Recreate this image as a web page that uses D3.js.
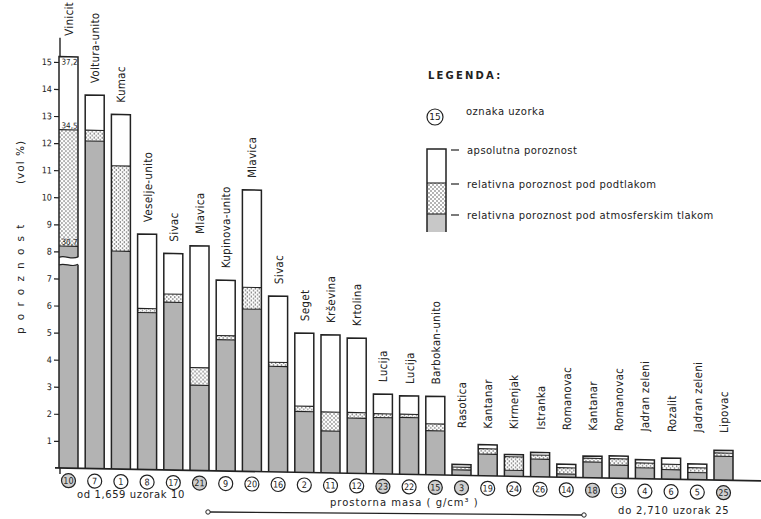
<!DOCTYPE html>
<html>
<head>
<meta charset="utf-8">
<script src="https://cdn.jsdelivr.net/npm/d3@7/dist/d3.min.js"></script>
<style>
  body { margin: 0; background: #fff; }
  text { fill: #222; font-family: "DejaVu Sans", sans-serif; }
</style>
</head>
<body>
<svg id="chart" width="761" height="519"></svg>
<script>
// sample names, sample numbers (circled) and the three porosity series (vol %)
const names = ["Vinicit","Voltura-unito","Kumac","Veselje-unito","Sivac","Mlavica","Kupinova-unito","Mlavica",
  "Sivac","Seget","Krševina","Krtolina","Lucija","Lucija","Barbokan-unito","Rasotica","Kantanar","Kirmenjak",
  "Istranka","Romanovac","Kantanar","Romanovac","Jadran zeleni","Rozalit","Jadran zeleni","Lipovac"];
const sampleNo = [10,7,1,8,17,21,9,20,16,2,11,12,23,22,15,3,19,24,26,14,18,13,4,6,5,25];
const shadedNo = [10,21,23,15,3,18,25];
const absolute    = [37.2,13.8,13.1,8.7,8.0,8.3,7.05,10.4,6.5,5.15,5.1,5.0,2.95,2.9,2.9,0.4,1.15,0.8,0.9,0.48,0.8,0.82,0.7,0.78,0.58,1.1];
const underVacuum = [34.5,12.5,11.2,5.95,6.5,3.8,5.0,6.8,4.05,2.45,2.25,2.25,2.22,2.22,1.88,0.3,1.0,0.72,0.8,0.35,0.72,0.72,0.58,0.55,0.44,1.0];
const atmospheric = [30.7,12.1,8.05,5.8,6.2,3.15,4.85,6.0,3.9,2.25,1.55,2.04,2.08,2.1,1.63,0.2,0.8,0.22,0.65,0.12,0.58,0.48,0.4,0.35,0.26,0.88];
const firstBarLabels = ["37,2","34,5","30,7"];
const yTicks = d3.range(1, 16);

const svg = d3.select("#chart");
const ink = "#222";

// dotted fill for "pod podtlakom"
const pat = svg.append("defs").append("pattern").attr("id","dots")
  .attr("width",4).attr("height",4).attr("patternUnits","userSpaceOnUse");
pat.append("rect").attr("width",4).attr("height",4).attr("fill","#fff");
pat.append("circle").attr("cx",1).attr("cy",1).attr("r",0.75).attr("fill","#444");
pat.append("circle").attr("cx",3).attr("cy",3).attr("r",0.75).attr("fill","#444");

const x = d3.scalePoint().domain(d3.range(names.length)).range([68.5, 723.5]);
const y = d3.scaleLinear().domain([0, 15]).range([468, 62]);
const barW = 19;
// the first bar is drawn with a broken scale
const broken = d3.scaleLinear().domain([0, 7.5, 30.7, 34.5, 37.2]).range([0, 7.5, 8.2, 12.5, 15.2]);
const val = (i, v) => i === 0 ? broken(v) : v;

// the scanned page sags a little to the right
const plot = svg.append("g").attr("transform", "translate(60,0) skewY(1.05) translate(-60,0)");

// y axis
const yAxis = plot.append("g").attr("transform", "translate(60,0)")
  .call(d3.axisLeft(y).tickValues(yTicks).tickSize(6).tickPadding(2));
yAxis.select(".domain").remove();
yAxis.selectAll("line").attr("stroke", ink).attr("stroke-width", 1.2);
yAxis.selectAll("text").attr("font-size", 9).attr("fill", ink)
  .style("font-family", '"DejaVu Sans Condensed","DejaVu Sans",sans-serif');
plot.append("line").attr("x1",60).attr("x2",60).attr("y1",y(0)+6).attr("y2",y(15.9))
  .attr("stroke", ink).attr("stroke-width", 1.4);

// bars
const bars = plot.append("g").selectAll("g").data(names).join("g")
  .attr("transform", (d, i) => `translate(${x(i) - barW / 2},0)`);
bars.append("rect").attr("width", barW)
  .attr("y", (d, i) => y(val(i, absolute[i])))
  .attr("height", (d, i) => y(0) - y(val(i, absolute[i])))
  .attr("fill", "#fff");
bars.append("rect").attr("width", barW)
  .attr("y", (d, i) => y(val(i, underVacuum[i])))
  .attr("height", (d, i) => y(val(i, atmospheric[i])) - y(val(i, underVacuum[i])))
  .attr("fill", "url(#dots)");
bars.append("rect").attr("width", barW)
  .attr("y", (d, i) => y(val(i, atmospheric[i])))
  .attr("height", (d, i) => y(0) - y(val(i, atmospheric[i])))
  .attr("fill", "#b3b3b3");
[underVacuum, atmospheric].forEach(s => {
  bars.append("line").attr("x2", barW)
    .attr("y1", (d, i) => y(val(i, s[i]))).attr("y2", (d, i) => y(val(i, s[i])))
    .attr("stroke", ink).attr("stroke-width", 1.1);
});
bars.append("path")
  .attr("d", (d, i) => `M0,${y(0)}V${y(val(i, absolute[i]))}H${barW}V${y(0)}`)
  .attr("fill", "none").attr("stroke", ink).attr("stroke-width", 1.5);

// scale break on the first bar
const b0 = x(0) - barW / 2, bLo = y(7.5), bHi = y(7.78);
const wave = (yy) => `M${b0},${yy}C${b0 + 6},${yy - 3} ${b0 + 13},${yy + 3} ${b0 + barW},${yy - 1}`;
plot.append("path")
  .attr("d", `M${b0 + 1},${bLo}C${b0 + 6},${bLo - 3} ${b0 + 13},${bLo + 3} ${b0 + barW + 2},${bLo - 1}` +
    `V${bHi - 1}C${b0 + 13},${bHi + 3} ${b0 + 6},${bHi - 3} ${b0 + 1},${bHi}Z`)
  .attr("fill", "#fff");
[bLo, bHi].forEach(yy => plot.append("path").attr("d", wave(yy))
  .attr("fill", "none").attr("stroke", ink).attr("stroke-width", 1.2));
plot.append("g").selectAll("text").data(firstBarLabels).join("text")
  .attr("x", x(0) + 1).attr("text-anchor", "middle")
  .attr("y", (d, i) => y(val(0, [absolute, underVacuum, atmospheric][i][0])) + (i === 0 ? 8 : -1.5))
  .attr("font-size", 8).attr("fill", ink)
  .style("font-family", '"DejaVu Sans Condensed","DejaVu Sans",sans-serif')
  .text(d => d);

// baseline
plot.append("line").attr("x1", 55).attr("x2", 761).attr("y1", y(0)).attr("y2", y(0))
  .attr("stroke", ink).attr("stroke-width", 1.6);

// names above bars
plot.append("g").selectAll("text").data(names).join("text")
  .attr("transform", (d, i) => {
    const base = i === 0 ? y(15.9) - 2 : y(Math.max(absolute[i], 1.3)) - 12;
    return `translate(${x(i) + 4.5},${base}) rotate(-90)`;
  })
  .attr("font-size", 11.5).attr("letter-spacing", 0.3)
  .style("font-family", '"DejaVu Sans Condensed","DejaVu Sans",sans-serif')
  .text(d => d);

// circled sample numbers
const marks = plot.append("g").selectAll("g").data(sampleNo).join("g")
  .attr("transform", (d, i) => `translate(${x(i)},${y(0) + 12.5})`);
marks.append("circle").attr("r", 7)
  .attr("fill", d => shadedNo.includes(d) ? "#cfcfcf" : "#fff")
  .attr("stroke", ink).attr("stroke-width", 1.2);
marks.append("text").attr("text-anchor", "middle").attr("dy", "0.35em")
  .attr("font-size", 9).style("font-family", '"DejaVu Sans Condensed","DejaVu Sans",sans-serif')
  .text(d => d);

// y label
svg.append("text").attr("transform", "translate(24,334) rotate(-90)")
  .attr("font-size", 10.5).attr("letter-spacing", 7.2).text("poroznost");
svg.append("text").attr("transform", "translate(24,184) rotate(-90)")
  .attr("font-size", 10.5).attr("letter-spacing", 1).text("(vol %)");

// bottom texts
svg.append("text").attr("x", 77).attr("y", 498).attr("font-size", 10).attr("letter-spacing", 0.6)
  .text("od  1,659  uzorak 10");
svg.append("text").attr("x", 330).attr("y", 506).attr("font-size", 10).attr("letter-spacing", 1)
  .text("prostorna  masa  ( g/cm³ )");
svg.append("text").attr("x", 618).attr("y", 514).attr("font-size", 10).attr("letter-spacing", 0.8)
  .text("do  2,710  uzorak 25");
svg.append("line").attr("x1", 210).attr("x2", 582).attr("y1", 512).attr("y2", 515)
  .attr("stroke", ink).attr("stroke-width", 1.3);
svg.append("circle").attr("cx", 208).attr("cy", 512).attr("r", 2.2).attr("fill", "#fff").attr("stroke", ink);
svg.append("circle").attr("cx", 584).attr("cy", 515).attr("r", 2.2).attr("fill", "#fff").attr("stroke", ink);

// legend
const lg = svg.append("g");
lg.append("text").attr("x", 428).attr("y", 79).attr("font-size", 10).attr("letter-spacing", 2.2)
  .attr("font-weight", "bold").text("LEGENDA:");
lg.append("circle").attr("cx", 435).attr("cy", 117).attr("r", 8)
  .attr("fill", "#fff").attr("stroke", ink).attr("stroke-width", 1.2);
lg.append("text").attr("x", 435).attr("y", 117).attr("dy", "0.35em").attr("text-anchor", "middle")
  .attr("font-size", 9).text("15");
lg.append("text").attr("x", 466).attr("y", 115).attr("font-size", 10).attr("letter-spacing", 0.5)
  .text("oznaka uzorka");
const lx = 427, lw = 19;
lg.append("rect").attr("x", lx).attr("y", 183).attr("width", lw).attr("height", 31).attr("fill", "url(#dots)");
lg.append("rect").attr("x", lx).attr("y", 214).attr("width", lw).attr("height", 18).attr("fill", "#c8c8c8");
lg.append("path").attr("d", `M${lx},232V149H${lx + lw}V232`).attr("fill", "none")
  .attr("stroke", ink).attr("stroke-width", 1.5);
[183, 214].forEach(yy => lg.append("line").attr("x1", lx).attr("x2", lx + lw)
  .attr("y1", yy).attr("y2", yy).attr("stroke", ink).attr("stroke-width", 1.1));
const legendItems = ["apsolutna poroznost", "relativna poroznost pod podtlakom", "relativna poroznost pod atmosferskim tlakom"];
const legendY = [150, 184, 215];
legendItems.forEach((t, i) => {
  lg.append("line").attr("x1", 451).attr("x2", 459).attr("y1", legendY[i]).attr("y2", legendY[i])
    .attr("stroke", ink).attr("stroke-width", 1.2);
  lg.append("text").attr("x", 467).attr("y", legendY[i] + 3.5).attr("font-size", 10)
    .attr("letter-spacing", 0.45).text(t);
});
</script>
</body>
</html>
